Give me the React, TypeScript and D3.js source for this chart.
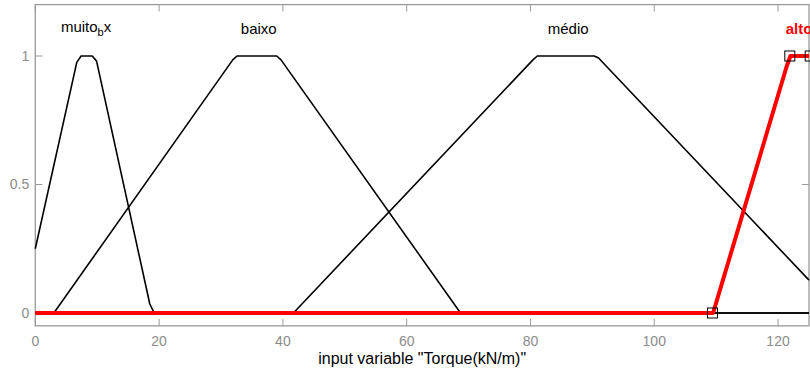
import React from "react";
import * as d3 from "d3";

// ---- data ----
const xTicks = [0, 20, 40, 60, 80, 100, 120];
const yTicks = [0, 0.5, 1];
const yTickLabels = ["0", "0.5", "1"];

const muitoBaixoX = [0, 6.7, 7.4, 9.2, 9.9, 18.5, 19.2, 125];
const muitoBaixoY = [0.25, 0.975, 1, 1, 0.98, 0.035, 0, 0];

const baixoX = [0, 3.0, 31.9, 32.6, 39.0, 39.7, 68.7, 125];
const baixoY = [0, 0, 0.985, 1, 1, 0.985, 0, 0];

const medioX = [0, 41.7, 80.4, 81.1, 90.3, 91.0, 125];
const medioY = [0, 0, 0.985, 1, 1, 0.992, 0.128];

const altoX = [0, 109.5, 110.2, 121.4, 122.0, 125];
const altoY = [0, 0, 0.056, 0.96, 1, 1];

const altoParamX = [109.4, 121.9, 125.2];
const altoParamY = [0, 1, 1];

const labelNames = ["baixo", "médio", "alto"];
const labelX = [36.1, 86.1, 123.4];
const muitoLabelX = 8.2;
const labelY = 1.1;

const xTitle = 'input variable "Torque(kN/m)"';

const W = 810;
const H = 383;

export default function App() {
  const x = d3.scaleLinear().domain([0, 125]).range([35.3, 809]);
  const y = d3.scaleLinear().domain([-0.05, 1.2]).range([325.85, 4.6]);
  const line = d3
    .line<[number, number]>()
    .x((d) => x(d[0]))
    .y((d) => y(d[1]));
  const zip = (xs: number[], ys: number[]) =>
    xs.map((v, i) => [v, ys[i]] as [number, number]);

  const blackCurves = [
    zip(muitoBaixoX, muitoBaixoY),
    zip(baixoX, baixoY),
    zip(medioX, medioY),
  ];
  const redCurve = zip(altoX, altoY);

  const axisColor = "#9a9a9a";
  const tickText = "#8c8c8c";
  const font = "'Liberation Sans', Arial, sans-serif";
  const x0 = x(0);
  const x1 = x(125);
  const yTop = y(1.2);
  const yBot = y(-0.05);
  const tl = 7;

  return (
    <svg
      width={W}
      height={H}
      style={{ position: "absolute", left: 0, top: 0, background: "#fff" }}
      fontFamily={font}
    >
      <rect x={0} y={0} width={W} height={H} fill="#fff" />
      {/* frame */}
      <rect
        x={x0}
        y={yTop}
        width={x1 - x0}
        height={yBot - yTop}
        fill="none"
        stroke={axisColor}
        strokeWidth={1.3}
      />
      {/* x ticks (bottom and top, inward) */}
      {xTicks.map((t) => (
        <g key={"xt" + t}>
          <line x1={x(t)} x2={x(t)} y1={yBot} y2={yBot - tl} stroke={axisColor} strokeWidth={1} />
          <line x1={x(t)} x2={x(t)} y1={yTop} y2={yTop + tl} stroke={axisColor} strokeWidth={1} />
          <text
            x={x(t)}
            y={yBot + 16}
            textAnchor="middle"
            dominantBaseline="middle"
            fontSize={14}
            fill={tickText}
          >
            {t}
          </text>
        </g>
      ))}
      {/* y ticks */}
      {yTicks.map((t, i) => (
        <g key={"yt" + t}>
          <line x1={x0} x2={x0 + tl} y1={y(t)} y2={y(t)} stroke={axisColor} strokeWidth={1} />
          <line x1={x1} x2={x1 - tl} y1={y(t)} y2={y(t)} stroke={axisColor} strokeWidth={1} />
          <text
            x={x0 - 6}
            y={y(t) + 1}
            textAnchor="end"
            dominantBaseline="middle"
            fontSize={14}
            fill={tickText}
          >
            {yTickLabels[i]}
          </text>
        </g>
      ))}
      {/* black membership functions */}
      {blackCurves.map((c, i) => (
        <path key={"mf" + i} d={line(c) || ""} fill="none" stroke="#000" strokeWidth={1.6} strokeLinejoin="round" />
      ))}
      {/* red (selected) membership function */}
      <path d={line(redCurve) || ""} fill="none" stroke="#ff0000" strokeWidth={4} strokeLinejoin="round" />
      {/* parameter squares */}
      {altoParamX.map((v, i) => (
        <rect
          key={"sq" + i}
          x={x(v) - 5}
          y={y(altoParamY[i]) - 5}
          width={10}
          height={10}
          fill="none"
          stroke="#000"
          strokeWidth={1}
        />
      ))}
      {/* labels */}
      <text
        x={x(muitoLabelX)}
        y={y(labelY) - 2}
        textAnchor="middle"
        dominantBaseline="middle"
        fontSize={15}
        fill="#000"
      >
        muito
        <tspan fontSize={11} dy={5}>b</tspan>
        <tspan dy={-5}>x</tspan>
      </text>
      {labelNames.map((n, i) => (
        <text
          key={n}
          x={x(labelX[i])}
          y={y(labelY)}
          textAnchor="middle"
          dominantBaseline="middle"
          fontSize={15}
          fill={n === "alto" ? "#ff0000" : "#000"}
          fontWeight={n === "alto" ? "bold" : "normal"}
        >
          {n}
        </text>
      ))}
      <text
        x={(x0 + x1) / 2}
        y={360}
        textAnchor="middle"
        dominantBaseline="middle"
        fontSize={16}
        fill="#000"
      >
        {xTitle}
      </text>
    </svg>
  );
}
